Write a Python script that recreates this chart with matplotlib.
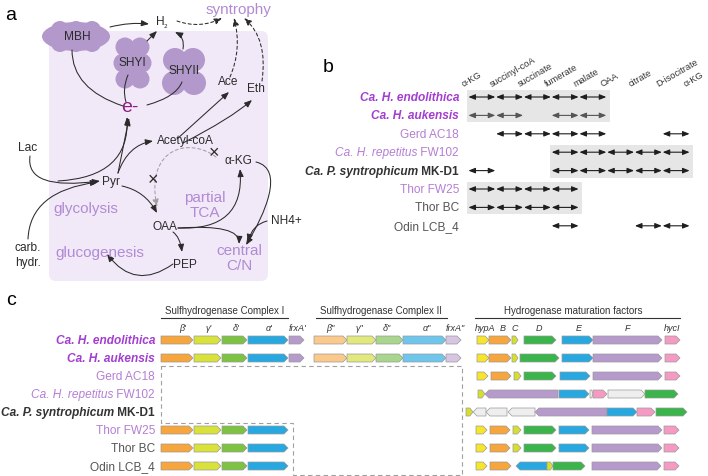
import matplotlib
matplotlib.use("Agg")
import matplotlib.pyplot as plt
from matplotlib.patches import FancyArrowPatch, Polygon, Circle, Ellipse, FancyBboxPatch, Rectangle
from matplotlib.path import Path

plt.rcParams['font.family'] = ['Liberation Sans', 'DejaVu Sans']

# ---------------- data ----------------
species = ["Ca. H. endolithica", "Ca. H. aukensis", "Gerd AC18", "Ca. H. repetitus FW102",
           "Ca. P. syntrophicum MK-D1", "Thor FW25", "Thor BC", "Odin LCB_4"]
# label pieces: (text, style, weight)
species_parts = [
    [("Ca. H. endolithica", "italic", "bold")],
    [("Ca. H. aukensis", "italic", "bold")],
    [("Gerd AC18", "normal", "normal")],
    [("Ca. H. repetitus", "italic", "normal"), (" FW102", "normal", "normal")],
    [("Ca. P. syntrophicum", "italic", "bold"), (" MK-D1", "normal", "bold")],
    [("Thor FW25", "normal", "normal")],
    [("Thor BC", "normal", "normal")],
    [("Odin LCB_4", "normal", "normal")],
]
species_colors = ["#a23fd0", "#a23fd0", "#b57fd3", "#b57fd3", "#333333", "#b57fd3", "#555555", "#555555"]

# panel b: TCA intermediates and which steps (node i -> i+1) each genome has
metabolites = ["α-KG", "succinyl-coA", "succinate", "fumerate", "malate", "OAA",
               "citrate", "D-isocitrate", "α-KG"]
tca_steps = [
    [0, 1, 2, 3, 4],
    [0, 1, 3, 4],
    [1, 2, 3, 4, 7],
    [3, 4, 5, 6, 7],
    [0, 3, 4, 5, 6, 7],
    [0, 1, 2, 3],
    [0, 1, 2, 3],
    [3, 6, 7],
]
# shaded groups: (first row, last row, first node, last node)
tca_groups = [(0, 1, 0, 5), (3, 4, 3, 8), (5, 6, 0, 4)]

# panel c: gene clusters (start, end, gene, strand)
shi_genes = [(0, 32, "b1", 1), (33, 60, "g1", 1), (61, 86, "d1", 1), (87, 127, "a1", 1), (128, 143, "f1", 1)]
shii_genes = [(0, 33, "b2", 1), (33, 62, "g2", 1), (62, 89, "d2", 1), (89, 132, "a2", 1), (132, 147, "f2", 1)]
shi_rows = {0: 5, 1: 5, 5: 4, 6: 4, 7: 4}   # number of genes present
shii_rows = [0, 1]
hyp_clusters = [
    [(0, 12, "A", 1), (12, 34, "B", 1), (35, 41, "C", 1), (47, 79, "D", 1), (85, 116, "E", 1), (116, 185, "F", 1), (188, 203, "I", 1)],
    [(0, 12, "A", 1), (12, 34, "B", 1), (35, 41, "C", 1), (43, 82, "D", 1), (85, 116, "E", 1), (116, 185, "F", 1), (188, 203, "I", 1)],
    [(0, 11, "A", 1), (14, 34, "B", 1), (37, 44, "C", 1), (47, 79, "D", 1), (83, 113, "E", 1), (116, 185, "F", 1), (188, 203, "I", 1)],
    [(1, 8, "C", 1), (8, 81, "F", -1), (82, 112, "E", 1), (113, 116, "X", 1), (116, 130, "I", 1), (131, 168, "X", 1), (168, 201, "D", 1)],
    [(-11, -4, "C", 1), (-4, 9, "X", -1), (9, 30, "X", -1), (31, 58, "X", -1), (58, 130, "F", -1), (130, 160, "E", 1), (160, 178, "I", 1), (179, 210, "D", 1)],
    [(-1, 10, "A", 1), (13, 33, "B", 1), (36, 44, "C", 1), (47, 79, "D", 1), (82, 112, "E", 1), (115, 185, "F", 1), (187, 202, "I", 1)],
    [(-1, 10, "A", 1), (13, 33, "B", 1), (36, 44, "C", 1), (47, 79, "D", 1), (82, 112, "E", 1), (115, 185, "F", 1), (187, 202, "I", 1)],
    [(-1, 10, "A", 1), (13, 34, "B", 1), (39, 70, "E", -1), (70, 76, "C", 1), (76, 108, "D", 1), (115, 184, "F", 1), (187, 202, "I", 1)],
]
gene_colors = {
    "b1": "#f7a63d", "g1": "#d9e23b", "d1": "#7dc243", "a1": "#27a8e0", "f1": "#b59acb",
    "b2": "#fbc98c", "g2": "#e1e87c", "d2": "#a9d58c", "a2": "#6fc6ec", "f2": "#d6c6e3",
    "A": "#f6e52c", "B": "#f7a63d", "C": "#d6df30", "D": "#3ab44b", "E": "#27a8e0",
    "F": "#b59acb", "I": "#f59ac3", "X": "#eeeeee",
}
shi_labels = ["β'", "γ'", "δ'", "α'", "frxA'"]
shii_labels = ['β"', 'γ"', 'δ"', 'α"', 'frxA"']
hyp_labels = ["hypA", "B", "C", "D", "E", "F", "hycI"]

# ---------------- figure ----------------
fig = plt.figure(figsize=(7.08, 4.77), dpi=100)
ax = fig.add_axes([0, 0, 1, 1])
ax.set_xlim(0, 708)
ax.set_ylim(477, 0)
ax.axis('off')
renderer = fig.canvas.get_renderer()

LP = "#b28ad4"   # light purple text
DK = "#2b2b2b"


def label(x, y, parts, color, size=8.6):
    # right aligned multi-style label
    for txt, st, wt in reversed(parts):
        t = ax.text(x, y, txt, ha='right', va='center', fontsize=size, style=st,
                    weight=wt, color=color)
        bb = t.get_window_extent(renderer)
        x -= bb.width


def arrow(p0, p1, ctrl=None, dashed=False, color=DK, head=True, lw=0.75):
    if ctrl is None:
        path = Path([p0, p1], [Path.MOVETO, Path.LINETO])
    elif len(ctrl) == 2 and not hasattr(ctrl[0], '__len__'):
        path = Path([p0, ctrl, p1], [Path.MOVETO, Path.CURVE3, Path.CURVE3])
    else:
        path = Path([p0, ctrl[0], ctrl[1], p1], [Path.MOVETO, Path.CURVE4, Path.CURVE4, Path.CURVE4])
    style = '-|>,head_length=0.5,head_width=0.2' if head else '-'
    a = FancyArrowPatch(path=path, arrowstyle=style, mutation_scale=9, lw=lw, color=color,
                        linestyle=(0, (3, 2.5)) if dashed else '-')
    ax.add_patch(a)


# ================= panel a =================
ax.text(5, 15, "a", fontsize=14, va='center', ha='left', color='black')
ax.add_patch(FancyBboxPatch((49, 32), 219, 250, boxstyle="round,pad=0,rounding_size=7",
                            fc="#f1e9f8", ec='none'))
cloud = "#b398cb"
ax.add_patch(Ellipse((76, 37.5), 68, 29, color=cloud, lw=0))
for cx in (60, 76, 92):
    ax.add_patch(Circle((cx, 31), 9, color=cloud, lw=0))
    ax.add_patch(Circle((cx, 44), 9, color=cloud, lw=0))
for cx, cy in [(125, 48), (140, 48), (123, 64), (142, 64), (125, 80), (140, 80)]:
    ax.add_patch(Circle((cx, cy), 9.5, color=cloud, lw=0))
ax.add_patch(Rectangle((122, 45), 20, 40, color=cloud, lw=0))
for cx, cy in [(175, 61), (193, 61), (174, 84), (194, 84)]:
    ax.add_patch(Circle((cx, cy), 12, color=cloud, lw=0))
ax.add_patch(Rectangle((172, 58), 24, 30, color=cloud, lw=0))

fs = 8.6
ax.text(77, 37, "MBH", fontsize=fs, ha='center', va='center', color=DK)
ax.text(132, 63, "SHYI", fontsize=fs, ha='center', va='center', color=DK)
ax.text(184, 71, "SHYII", fontsize=fs, ha='center', va='center', color=DK)
ax.text(162, 23, r"H$_{_2}$", fontsize=fs, ha='center', va='center', color=DK)
ax.text(239, 10, "syntrophy", fontsize=11, ha='center', va='center', color=LP)
ax.text(228, 82, "Ace", fontsize=fs, ha='center', va='center', color=DK)
ax.text(256, 89, "Eth", fontsize=fs, ha='center', va='center', color=DK)
ax.text(130, 107, "e-", fontsize=14, ha='center', va='center', color="#8c2082")
ax.text(185, 141, "Acetyl-coA", fontsize=fs, ha='center', va='center', color=DK)
ax.text(28, 148, "Lac", fontsize=fs, ha='center', va='center', color=DK)
ax.text(111, 182, "Pyr", fontsize=fs, ha='center', va='center', color=DK)
ax.text(238, 161, "α-KG", fontsize=fs, ha='center', va='center', color=DK)
ax.text(165, 227, "OAA", fontsize=fs, ha='center', va='center', color=DK)
ax.text(286, 221, "NH4+", fontsize=fs, ha='center', va='center', color=DK)
ax.text(28, 248, "carb.", fontsize=fs, ha='center', va='center', color=DK)
ax.text(28, 263, "hydr.", fontsize=fs, ha='center', va='center', color=DK)
ax.text(185, 265, "PEP", fontsize=fs, ha='center', va='center', color=DK)
ax.text(86, 209, "glycolysis", fontsize=11, ha='center', va='center', color=LP)
ax.text(100, 253, "glucogenesis", fontsize=11, ha='center', va='center', color=LP)
ax.text(205, 198, "partial", fontsize=11, ha='center', va='center', color=LP)
ax.text(205, 213, "TCA", fontsize=11, ha='center', va='center', color=LP)
ax.text(239, 251, "central", fontsize=11, ha='center', va='center', color=LP)
ax.text(239, 266, "C/N", fontsize=11, ha='center', va='center', color=LP)
ax.text(214, 154, "×", fontsize=13, ha='center', va='center', color=DK)
ax.text(153, 181, "×", fontsize=13, ha='center', va='center', color=DK)

arrow((110, 28), (149, 25), ctrl=(130, 23))
arrow((147, 42), (157, 32))
arrow((183, 50), (175, 33), ctrl=(185, 38))
arrow((177, 22), (222, 19), ctrl=(200, 30), dashed=True)
arrow((230, 78), (234, 19), ctrl=(242, 50), dashed=True)
arrow((262, 82), (244, 19), ctrl=(268, 40), dashed=True)
arrow((72, 51), (123, 107), ctrl=(72, 90), head=False)
arrow((128, 76), (126, 103), ctrl=(122, 90), head=False)
arrow((182, 83), (147, 106), ctrl=(176, 98), head=False)
arrow((30, 157), (100, 182), ctrl=(25, 192))
arrow((58, 182), (127, 118), ctrl=(130, 178))
arrow((118, 174), (129, 119))
arrow((118, 174), (153, 142), ctrl=(128, 146))
arrow((28, 240), (98, 183), ctrl=(30, 192))
arrow((122, 187), (157, 214), ctrl=(145, 192))
arrow((177, 140), (229, 93))
arrow((183, 144), (252, 101), ctrl=(230, 120))
arrow((216, 158), (157, 208), ctrl=((190, 138), (145, 148)), dashed=True, color="#a0a0a0")
arrow((178, 229), (240, 170), ctrl=(245, 232))
arrow((178, 229), (239, 245), ctrl=(240, 225))
arrow((256, 163), (246, 246), ctrl=((285, 170), (265, 215)))
arrow((267, 222), (248, 243), ctrl=(252, 226))
arrow((173, 233), (182, 253), ctrl=(180, 238))
arrow((173, 265), (107, 255), ctrl=(135, 292))

# ================= panel b =================
ax.text(323, 68, "b", fontsize=14, ha='left', va='center', color='black')
bx0, bdx = 468, 27.75
by0, bdy = 98, 18.4
for r0, r1, n0, n1 in tca_groups:
    ax.add_patch(Rectangle((bx0 + n0 * bdx - 1, by0 + r0 * bdy - 7), (n1 - n0) * bdx + 4,
                           (r1 - r0) * bdy + 14, fc="#e6e6e6", ec='none'))
for i, name in enumerate(metabolites):
    ax.text(bx0 + i * bdx - 3, 89, name, fontsize=6.6, rotation=30, ha='left', va='bottom',
            rotation_mode='anchor', color="#333333")
for r, steps in enumerate(tca_steps):
    y = by0 + r * bdy
    for s in steps:
        a = FancyArrowPatch((bx0 + s * bdx, y), (bx0 + (s + 1) * bdx, y),
                            arrowstyle='<|-|>,head_length=0.5,head_width=0.2', mutation_scale=8,
                            lw=0.8, color="#555555" if r == 1 else "#1e1e1e",
                            shrinkA=0.3, shrinkB=0.3)
        ax.add_patch(a)
    label(459, y, species_parts[r], species_colors[r])

# ================= panel c =================
ax.text(6, 301, "c", fontsize=14, ha='left', va='center', color='black')
cy0, cdy = 341, 18.0
gh = 8.0


def gene(x0, x1, y, key, strand):
    t = min(4.0, (x1 - x0) * 0.45)
    if strand > 0:
        pts = [(x0, y - gh / 2), (x1 - t, y - gh / 2), (x1, y), (x1 - t, y + gh / 2), (x0, y + gh / 2)]
    else:
        pts = [(x1, y - gh / 2), (x0 + t, y - gh / 2), (x0, y), (x0 + t, y + gh / 2), (x1, y + gh / 2)]
    ax.add_patch(Polygon(pts, closed=True, fc=gene_colors[key], ec="#9a9a9a", lw=0.5,
                         joinstyle='round'))


shi_x, shii_x, hyp_x = 161, 314, 477
for r, n in shi_rows.items():
    for g in shi_genes[:n]:
        gene(shi_x + g[0], shi_x + g[1], cy0 + r * cdy, g[2], g[3])
for r in shii_rows:
    for g in shii_genes:
        gene(shii_x + g[0], shii_x + g[1], cy0 + r * cdy, g[2], g[3])
for r, cl in enumerate(hyp_clusters):
    for g in cl:
        gene(hyp_x + g[0], hyp_x + g[1], cy0 + r * cdy, g[2], g[3])
    label(155, cy0 + r * cdy, species_parts[r], species_colors[r])

# headers
for x0, x1, tx, title in [(161, 288, 225, "Sulfhydrogenase Complex I"),
                          (316, 447, 381, "Sulfhydrogenase Complex II"),
                          (475, 680, 573, "Hydrogenase maturation factors")]:
    ax.plot([x0, x1], [319, 319], color="#333333", lw=0.8)
    ax.text(tx, 311, title, fontsize=7, ha='center', va='center', color="#333333")
for lx, lab in zip([183, 209, 236, 269, 298], shi_labels):
    ax.text(lx, 329, lab, fontsize=6.5, style='italic', ha='center', va='center', color="#333333")
for lx, lab in zip([330, 359, 387, 427, 455], shii_labels):
    ax.text(lx, 329, lab, fontsize=6.5, style='italic', ha='center', va='center', color="#333333")
for lx, lab in zip([485, 503, 515, 539, 579, 627, 672], hyp_labels):
    ax.text(lx, 329, lab, fontsize=6.5, style='italic', ha='center', va='center', color="#333333")

ax.add_patch(Polygon([(161, 367), (462, 367), (462, 476), (293, 476), (293, 424), (161, 424)],
                     closed=True, fill=False, ec="#a0a0a0", lw=0.8, linestyle=(0, (4, 3))))

fig.savefig("out.png", dpi=100)
